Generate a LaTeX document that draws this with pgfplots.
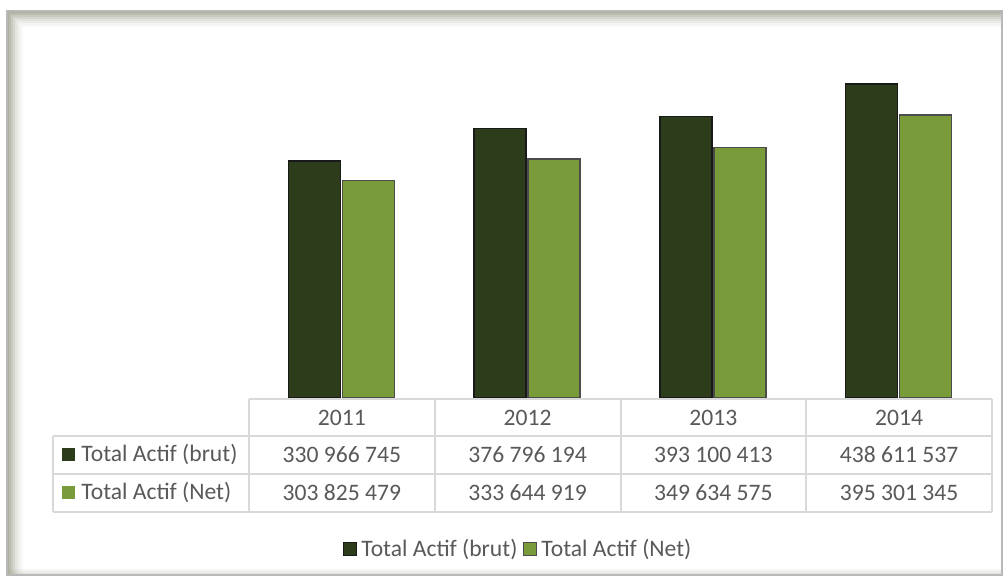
\documentclass[border=0pt]{standalone}
\usepackage{fontspec}
\setmainfont{Carlito}
\usepackage{pgfplots}
\pgfplotsset{compat=1.18}
\definecolor{brut}{HTML}{2D3C1B}
\definecolor{net}{HTML}{7A9B3A}
\definecolor{txt}{HTML}{595959}
\definecolor{gridc}{HTML}{D9D9D9}
\definecolor{shad}{HTML}{A3A894}

\begin{document}
\begin{tikzpicture}[x=0.5pt,y=0.5pt,font=\fontsize{11.8}{14}\selectfont,text=txt]
\useasboundingbox (0,0) rectangle (1008,579);
% chart frame with inner shadow on top and left
\fill[white] (7,4) rectangle (1002,568);
\foreach \i/\o in {0/0.9,1/0.75,2/0.6,3/0.45,4/0.32,5/0.2,6/0.12,7/0.06}{
  \draw[shad,opacity=\o,line width=1pt] (8+2*\i,5) -- (8+2*\i,567-2*\i) -- (1001,567-2*\i);
}
\foreach \i/\o in {0/0.3,1/0.2,2/0.1}{
  \draw[shad,opacity=\o,line width=1pt] (8,5+2*\i) -- (1001,5+2*\i);
}
\draw[black!28,line width=0.8pt] (7,4) rectangle (1002,568);

\begin{axis}[
  at={(124.5pt,90.5pt)}, anchor=south west,
  scale only axis, width=371.5pt, height=179pt,
  xmin=-0.5, xmax=3.5, ymin=0, ymax=500000000,
  hide axis,
  ybar, bar width=26pt,
  legend columns=2,
  legend style={at={(0.362,-0.422)}, anchor=center, draw=none, fill=none,
    font=\fontsize{11.8}{14}\selectfont, text=txt,
    nodes={inner xsep=0.8pt},
    /tikz/every odd column/.append style={column sep=1.2pt},
    /tikz/every even column/.append style={column sep=2pt}},
  legend image code/.code={\fill[#1] (0pt,-3.25pt) rectangle (6.5pt,3.25pt);},
]
\addplot[draw=black!90, line width=0.7pt, fill=brut, bar shift=-13.75pt]
  coordinates {(0,330966745) (1,376796194) (2,393100413) (3,438611537)};
\addplot[draw=black!70, line width=0.7pt, fill=net, bar shift=13.25pt]
  coordinates {(0,303825479) (1,333644919) (2,349634575) (3,395301345)};
\legend{Total Actif (brut), Total Actif (Net)}
\end{axis}

% data table
\draw[gridc,line width=1pt] (249,179.5) -- (992,179.5);
\foreach \y in {143,105,67}{\draw[gridc,line width=1pt] (53,\y) -- (992,\y);}
\draw[gridc,line width=1pt] (53,143) -- (53,67);
\foreach \x in {249,434.75,620.5,806.25,992}{\draw[gridc,line width=1pt] (\x,179.5) -- (\x,67);}
\foreach \x/\t in {341.9/2011,527.6/2012,713.4/2013,899.1/2014}{\node at (\x,161) {\t};}
\foreach \x/\t in {341.9/330 966 745,527.6/376 796 194,713.4/393 100 413,899.1/438 611 537}{\node at (\x,124) {\t};}
\foreach \x/\t in {341.9/303 825 479,527.6/333 644 919,713.4/349 634 575,899.1/395 301 345}{\node at (\x,86) {\t};}
\fill[brut] (62,117.5) rectangle (75,130.5);
\fill[net] (62,79.5) rectangle (75,92.5);
\node[anchor=west,inner sep=0pt] at (81,124) {Total Actif (brut)};
\node[anchor=west,inner sep=0pt] at (81,86) {Total Actif (Net)};
\end{tikzpicture}
\end{document}
